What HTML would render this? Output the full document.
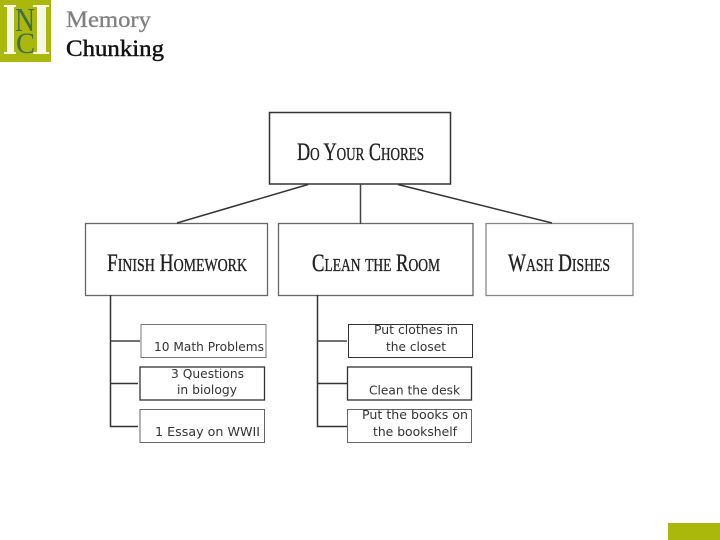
<!DOCTYPE html>
<html lang="en">
<head>
<meta charset="utf-8">
<title>Memory Chunking</title>
<style>
html,body{margin:0;padding:0;background:#fff}
svg{display:block}
.t{font-family:"Liberation Serif",serif;font-variant:small-caps;font-size:25px;fill:#222;stroke:#222;stroke-width:.35px}
.s{font-family:"DejaVu Sans",sans-serif;font-size:12px;fill:#333}
</style>
</head>
<body>
<svg width="720" height="540" viewBox="0 0 720 540" xmlns="http://www.w3.org/2000/svg">
<rect x="0" y="0" width="51" height="62" fill="#a9b80a"/>
<g fill="#f6f7e8">
<rect x="4" y="5" width="12" height="2"/><rect x="4" y="52" width="12" height="2"/><rect x="7" y="5" width="7" height="49"/>
<rect x="33" y="5" width="16" height="2"/><rect x="33" y="52" width="16" height="2"/><rect x="37" y="5" width="9" height="49"/>
</g>
<text x="15" y="31" font-family="Liberation Serif,serif" font-size="34" fill="#3f6b50" textLength="20" lengthAdjust="spacingAndGlyphs">N</text>
<text x="16" y="53" font-family="Liberation Serif,serif" font-size="30" fill="#3f6b50" textLength="19" lengthAdjust="spacingAndGlyphs">C</text>
<text x="66" y="27" font-family="Liberation Serif,serif" font-size="23" fill="#808080" stroke="#808080" stroke-width=".3" textLength="85" lengthAdjust="spacingAndGlyphs">Memory</text>
<text x="66" y="56" font-family="Liberation Serif,serif" font-size="23" fill="#111" stroke="#111" stroke-width=".45" textLength="98" lengthAdjust="spacingAndGlyphs">Chunking</text>

<g fill="#fff">
<rect x="269.5" y="112.5" width="181" height="71.5" stroke="#333" stroke-width="1.5"/>
<rect x="85.5" y="223.5" width="182" height="72" stroke="#666" stroke-width="1.3"/>
<rect x="278.5" y="223.5" width="194.5" height="72" stroke="#666" stroke-width="1.3"/>
<rect x="486" y="223.5" width="147" height="72" stroke="#888" stroke-width="1.3"/>
<rect x="141" y="324.5" width="125" height="33" stroke="#777"/>
<rect x="140" y="367" width="124.5" height="33" stroke="#333" stroke-width="1.3"/>
<rect x="140" y="409.5" width="124.5" height="33" stroke="#666"/>
<rect x="348.5" y="324.5" width="124" height="33" stroke="#333"/>
<rect x="347.5" y="367" width="124" height="33" stroke="#333" stroke-width="1.3"/>
<rect x="347.5" y="409.5" width="124" height="33" stroke="#666"/>
</g>

<g stroke="#333" fill="none" stroke-width="1.5">
<path d="M308 184.5L177 223"/>
<path d="M360.5 184V224" stroke="#444"/>
<path d="M398 184.5L552 223"/>
<path d="M110.5 295V426.5H138"/>
<path d="M110.5 341H140" stroke="#444"/>
<path d="M110.5 383.5H138"/>
<path d="M317.5 295V426.5H347"/>
<path d="M317.5 341H347" stroke="#444"/>
<path d="M317.5 383.5H347"/>
</g>

<text class="t" x="297" y="160" textLength="127" lengthAdjust="spacingAndGlyphs">Do Your Chores</text>
<text class="t" x="107" y="271" textLength="140" lengthAdjust="spacingAndGlyphs">Finish Homework</text>
<text class="t" x="312" y="271" textLength="128" lengthAdjust="spacingAndGlyphs">Clean the Room</text>
<text class="t" x="508" y="271" textLength="102" lengthAdjust="spacingAndGlyphs">Wash Dishes</text>

<text class="s" x="154" y="351" textLength="110" lengthAdjust="spacingAndGlyphs">10 Math Problems</text>
<text class="s" x="171" y="378" textLength="73" lengthAdjust="spacingAndGlyphs">3 Questions</text>
<text class="s" x="177" y="394" textLength="60" lengthAdjust="spacingAndGlyphs">in biology</text>
<text class="s" x="155" y="436" textLength="105" lengthAdjust="spacingAndGlyphs">1 Essay on WWII</text>
<text class="s" x="374" y="334" textLength="84" lengthAdjust="spacingAndGlyphs">Put clothes in</text>
<text class="s" x="386" y="351" textLength="60" lengthAdjust="spacingAndGlyphs">the closet</text>
<text class="s" x="369" y="394.5" textLength="91" lengthAdjust="spacingAndGlyphs">Clean the desk</text>
<text class="s" x="362" y="419" textLength="106" lengthAdjust="spacingAndGlyphs">Put the books on</text>
<text class="s" x="373" y="436" textLength="84" lengthAdjust="spacingAndGlyphs">the bookshelf</text>

<rect x="668" y="523" width="52" height="17" fill="#a9b80a"/>
</svg>
</body>
</html>
